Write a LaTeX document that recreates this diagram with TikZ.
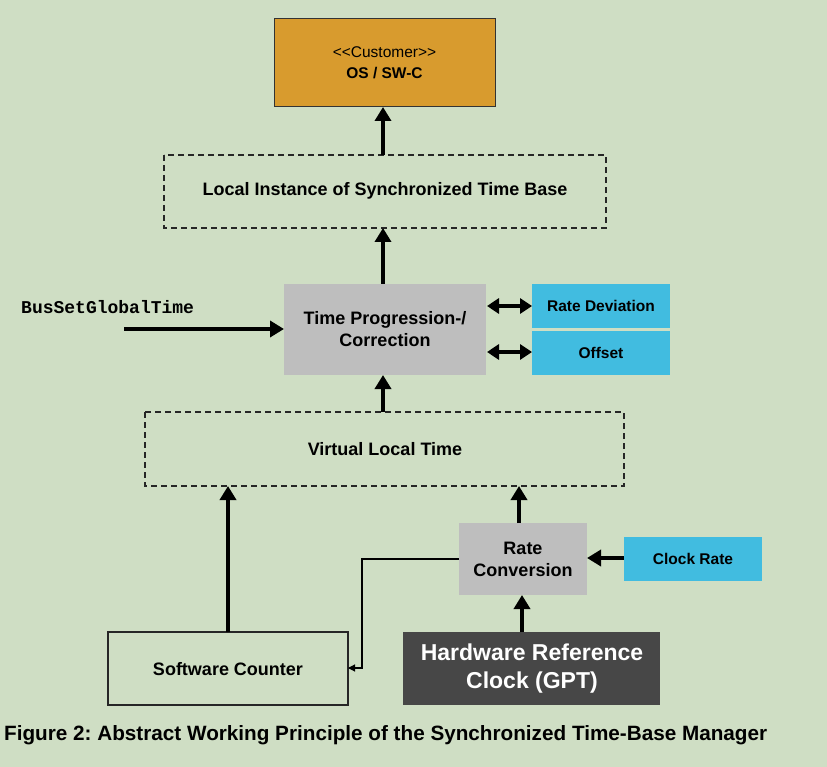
\documentclass[tikz,border=0pt]{standalone}
\usepackage{fontspec}
\setmainfont{Liberation Sans}
\setmonofont{Liberation Mono}
\usetikzlibrary{arrows.meta}
\definecolor{bg}{RGB}{207,222,196}
\definecolor{custorange}{RGB}{216,155,46}
\definecolor{boxgray}{RGB}{190,190,190}
\definecolor{boxblue}{RGB}{65,188,224}
\definecolor{hwgray}{RGB}{71,71,71}
\frenchspacing
\begin{document}
\begin{tikzpicture}[x=1pt,y=-1pt,
  lbl/.style={font=\fontsize{18}{22}\selectfont\bfseries, align=center},
  dbox/.style={draw=black!85, dash pattern=on 6pt off 4pt, line width=1.4pt},
  thick arr/.style={line width=3.5pt, -{Triangle[length=14pt,width=16pt]}},
  dbl arr/.style={line width=3.5pt, {Triangle[length=12pt,width=15pt]}-{Triangle[length=12pt,width=15pt]}},
  thin arr/.style={line width=1.1pt, -{Triangle[length=7pt,width=7pt]}}
]
\fill[bg] (0,0) rectangle (827,767);
\useasboundingbox (0,0) rectangle (827,767);

% Customer box
\draw[fill=custorange, draw=black!80, line width=1pt] (274,19) rectangle (495,107);
\node[font=\fontsize{15.5}{19}\selectfont, inner sep=0pt] (custt1) at (384.5,52) {<{}<Customer>{}>};
\node[font=\fontsize{15.5}{19}\selectfont\bfseries, inner sep=0pt] (custt2) at (384.5,73) {OS / SW-C};
\coordinate (custB) at (383,107);

% Local instance
\draw[dbox] (164,155) rectangle (606,228);
\node[lbl, inner sep=0pt] (local) at (385,191) {Local Instance of Synchronized Time Base};
\coordinate (localT) at (383,155);
\coordinate (localB) at (383,228);

% Time progression
\fill[boxgray] (284,284) rectangle (486,375);
\node[lbl, inner sep=0pt] (tpc) at (385,329) {Time Progression-/\\Correction};
\coordinate (tpcT) at (383,284);
\coordinate (tpcB) at (383,375);
\coordinate (tpcL) at (284,329);
\coordinate (tpcR1) at (487,306);
\coordinate (tpcR2) at (487,352);

% Blue boxes
\fill[boxblue] (532,284) rectangle (670,328);
\node[font=\fontsize{15.5}{19}\selectfont\bfseries, inner sep=0pt] (rdev) at (601,306) {Rate Deviation};
\fill[boxblue] (532,331) rectangle (670,375);
\node[font=\fontsize{15.5}{19}\selectfont\bfseries, inner sep=0pt] (off) at (601,353) {Offset};
\coordinate (rdevL) at (532,306);
\coordinate (offL) at (532,352);

% BusSetGlobalTime
\node[font=\fontsize{18}{22}\selectfont\ttfamily\bfseries, anchor=west, inner sep=0pt] (bus) at (21,307) {BusSetGlobalTime};
\coordinate (busS) at (124,329);

% Virtual local time
\draw[dbox] (145,412) rectangle (624,486);
\node[lbl, inner sep=0pt] (vlt) at (385,449) {Virtual Local Time};
\coordinate (vltT) at (383,412);
\coordinate (vltB1) at (228,486);
\coordinate (vltB2) at (519,486);

% Rate conversion
\fill[boxgray] (459,523) rectangle (587,595);
\node[lbl, inner sep=0pt] (rc) at (523,559) {Rate\\Conversion};
\coordinate (rcT) at (519,523);
\coordinate (rcB) at (522,595);
\coordinate (rcL) at (459,559);
\coordinate (rcR) at (587,558);

% Clock rate
\fill[boxblue] (624,537) rectangle (762,581);
\node[font=\fontsize{15.5}{19}\selectfont\bfseries, inner sep=0pt] (clk) at (693,559) {Clock Rate};
\coordinate (clkL) at (624,558);

% Hardware ref clock
\fill[hwgray] (403,632) rectangle (660,705);
\node[font=\fontsize{23}{28}\selectfont\bfseries, text=white, align=center, inner sep=0pt] (hw) at (532,669) {Hardware Reference\\Clock (GPT)};
\coordinate (hwT) at (522,632);

% Software counter
\draw[draw=black!85, line width=1.2pt] (108,632) rectangle (348,705);
\node[lbl, inner sep=0pt] (sw) at (228,669) {Software Counter};
\coordinate (swT) at (228,632);
\coordinate (swR) at (348,668);

% Connectors
\draw[thick arr] (localT) -- (custB);
\draw[thick arr] (tpcT) -- (localB);
\draw[thick arr] (vltT) -- (tpcB);
\draw[thick arr] (busS) -- (tpcL);
\draw[dbl arr] (tpcR1) -- (rdevL);
\draw[dbl arr] (tpcR2) -- (offL);
\draw[thick arr] (swT) -- (vltB1);
\draw[thick arr] (rcT) -- (vltB2);
\draw[thick arr] (hwT) -- (rcB);
\draw[thick arr] (clkL) -- (rcR);
\draw[thin arr] (rcL) -- (362,559) -- (362,668) -- (swR);

% Caption
\node[font=\fontsize{20.7}{25}\selectfont\bfseries, anchor=west, inner sep=0pt] (cap) at (4,735) {Figure 2: Abstract Working Principle of the Synchronized Time-Base Manager};
\end{tikzpicture}
\end{document}
